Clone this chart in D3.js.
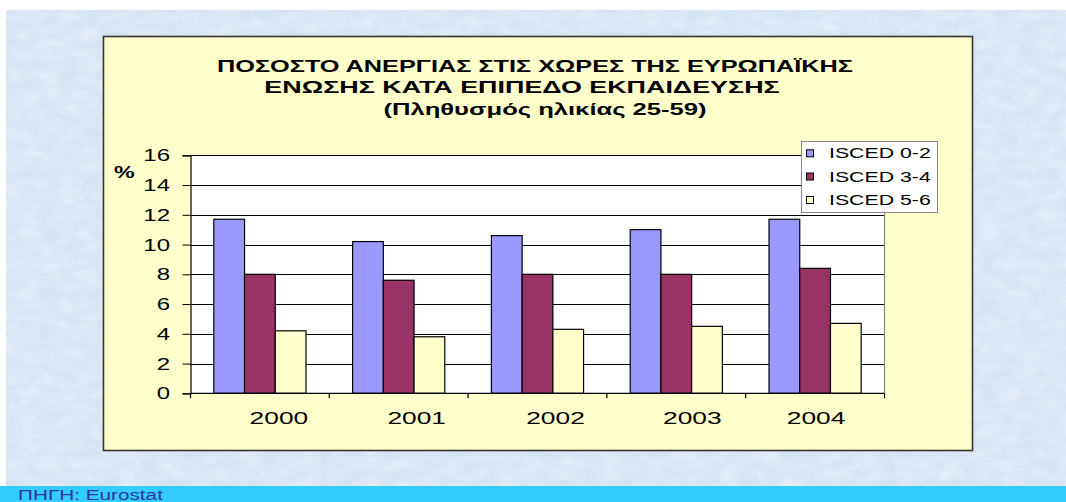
<!DOCTYPE html>
<html><head><meta charset="utf-8">
<script src="https://cdn.jsdelivr.net/npm/d3@7"></script>
<style>
html,body{margin:0;padding:0;background:#fff;}
svg{display:block;}
</style></head>
<body>
<svg id="c" width="1066" height="502"></svg>
<script>
const categories = ["2000","2001","2002","2003","2004"];
const seriesNames = ["ISCED 0-2","ISCED 3-4","ISCED 5-6"];
const isced02 = [11.7, 10.2, 10.6, 11.0, 11.7];
const isced34 = [8.0, 7.6, 8.0, 8.0, 8.4];
const isced56 = [4.2, 3.8, 4.3, 4.5, 4.7];
const yTicks = [0,2,4,6,8,10,12,14,16];
const titleLines = ["ΠΟΣΟΣΤΟ ΑΝΕΡΓΙΑΣ ΣΤΙΣ ΧΩΡΕΣ ΤΗΣ ΕΥΡΩΠΑΪΚΗΣ","ΕΝΩΣΗΣ ΚΑΤΑ ΕΠΙΠΕΔΟ ΕΚΠΑΙΔΕΥΣΗΣ","(Πληθυσμός ηλικίας 25-59)"];
const sourceText = "ΠΗΓΗ: Eurostat";

const colors = ["#9999FF","#993366","#FFFFCC"];
const seriesVals = [isced02, isced34, isced56];

const svg = d3.select("#c");
const W = 1066, H = 502;
const font = "Arial, 'Liberation Sans', sans-serif";

function stext(parent, x, y, str, opts){
  return parent.append("text")
    .attr("transform", `translate(${x},${y}) scale(${opts.sx||1.5},1)`)
    .attr("font-family", font).attr("font-size", opts.size)
    .attr("font-weight", opts.bold ? "bold" : "normal")
    .attr("text-anchor", opts.anchor || "start")
    .attr("fill", opts.fill || "#000")
    .text(str);
}

// background
const defs = svg.append("defs");
const flt = defs.append("filter").attr("id","tex").attr("x",0).attr("y",0).attr("width","100%").attr("height","100%");
flt.append("feTurbulence").attr("type","fractalNoise").attr("baseFrequency","0.05 0.1").attr("numOctaves",3).attr("seed",4).attr("result","n");
flt.append("feColorMatrix").attr("in","n").attr("type","matrix")
  .attr("values","0 0 0 0 1  0 0 0 0 1  0 0 0 0 1  1.1 0 0 0 -0.35").attr("result","w");
flt.append("feComposite").attr("in","w").attr("in2","SourceGraphic").attr("operator","in");

svg.append("rect").attr("x",0).attr("y",0).attr("width",W).attr("height",H).attr("fill","#ffffff");
svg.append("rect").attr("x",6).attr("y",10).attr("width",W-6).attr("height",476).attr("fill","#d6e3f3");
svg.append("rect").attr("x",6).attr("y",10).attr("width",W-6).attr("height",476).attr("fill","#d6e3f3").attr("filter","url(#tex)").attr("opacity",0.6);

// source bar
svg.append("rect").attr("x",0).attr("y",486).attr("width",W).attr("height",16).attr("fill","#33CCFF");
stext(svg, 18, 500, sourceText, {size:14, sx:1.48, fill:"#333399"});

// chart box
svg.append("rect").attr("x",103.5).attr("y",36.5).attr("width",869).attr("height",414)
  .attr("fill","#FFFFCC").attr("stroke","#333").attr("stroke-width",1.6);

// title
const titleX = [535, 522, 545];
const titleSX = [1.58, 1.68, 1.6];
titleLines.forEach((t,i)=>{
  stext(svg, titleX[i], 71.5 + i*21.5, t, {size:16, bold:true, sx:titleSX[i], anchor:"middle"});
});

// plot
const x0 = 190.5, x1 = 884.5, yTop = 155.3, yBot = 393.3;
const x = d3.scaleBand().domain(categories).range([x0,x1]).paddingInner(0.336).paddingOuter(0.168);
const xs = d3.scaleBand().domain(seriesNames).range([0,x.bandwidth()]);
const y = d3.scaleLinear().domain([0,16]).range([yBot,yTop]);

svg.append("rect").attr("x",x0).attr("y",yTop).attr("width",x1-x0).attr("height",yBot-yTop).attr("fill","#fff");

svg.append("g").selectAll("line").data(yTicks.filter(t=>t>0)).join("line")
  .attr("x1",x0).attr("x2",x1).attr("y1",d=>Math.round(y(d))+0.5).attr("y2",d=>Math.round(y(d))+0.5)
  .attr("stroke","#000").attr("stroke-width",1);
svg.append("line").attr("x1",x1).attr("x2",x1).attr("y1",yTop).attr("y2",yBot).attr("stroke","#888").attr("stroke-width",1.2);

const g = svg.append("g");
categories.forEach((c,ci)=>{
  seriesNames.forEach((s,si)=>{
    const v = seriesVals[si][ci];
    g.append("rect")
      .attr("x",x(c)+xs(s)).attr("y",y(v)).attr("width",xs.bandwidth()).attr("height",y(0)-y(v))
      .attr("fill",colors[si]).attr("stroke","#000").attr("stroke-width",1.2);
  });
});

// y axis
const yAxis = d3.axisLeft(y).tickValues(yTicks).tickSize(8).tickFormat(()=>"");
const ya = svg.append("g").attr("transform",`translate(${x0},0)`).call(yAxis);
ya.select(".domain").attr("stroke","#000").attr("stroke-width",1.2);
ya.selectAll(".tick line").attr("stroke","#000");
yTicks.forEach(t=>{
  stext(svg, 170, y(t)+6, d3.format("d")(t), {size:16, sx:1.5, anchor:"end"});
});

// x axis
const xa = svg.append("g").attr("transform",`translate(0,${yBot})`);
xa.append("line").attr("x1",x0).attr("x2",x1).attr("y1",0).attr("y2",0).attr("stroke","#000").attr("stroke-width",1.2);
const bounds = d3.range(categories.length+1).map(i=>x0 + i*(x1-x0)/categories.length);
xa.selectAll("line.tk").data(bounds).join("line").attr("class","tk")
  .attr("x1",d=>d).attr("x2",d=>d).attr("y1",0).attr("y2",5).attr("stroke","#000").attr("stroke-width",1.2);
const labelShift = [19, 18, 18, 16, 1];
categories.forEach((c,i)=>{
  stext(svg, x(c)+x.bandwidth()/2 + labelShift[i], 424, c, {size:17, sx:1.55, anchor:"middle"});
});

stext(svg, 114, 178, "%", {size:16, bold:true, sx:1.45});

// legend
const lg = svg.append("g");
lg.append("rect").attr("x",801.5).attr("y",141.5).attr("width",136).attr("height",71)
  .attr("fill","#fff").attr("stroke","#888").attr("stroke-width",1);
const legY = [158.3, 181.5, 205];
seriesNames.forEach((s,i)=>{
  lg.append("rect").attr("x",806.5).attr("y",legY[i]-8.5).attr("width",7).attr("height",7)
    .attr("fill",colors[i]).attr("stroke","#000").attr("stroke-width",1);
  stext(lg, 829, legY[i], s, {size:15, sx:1.42});
});
</script>
</body></html>
